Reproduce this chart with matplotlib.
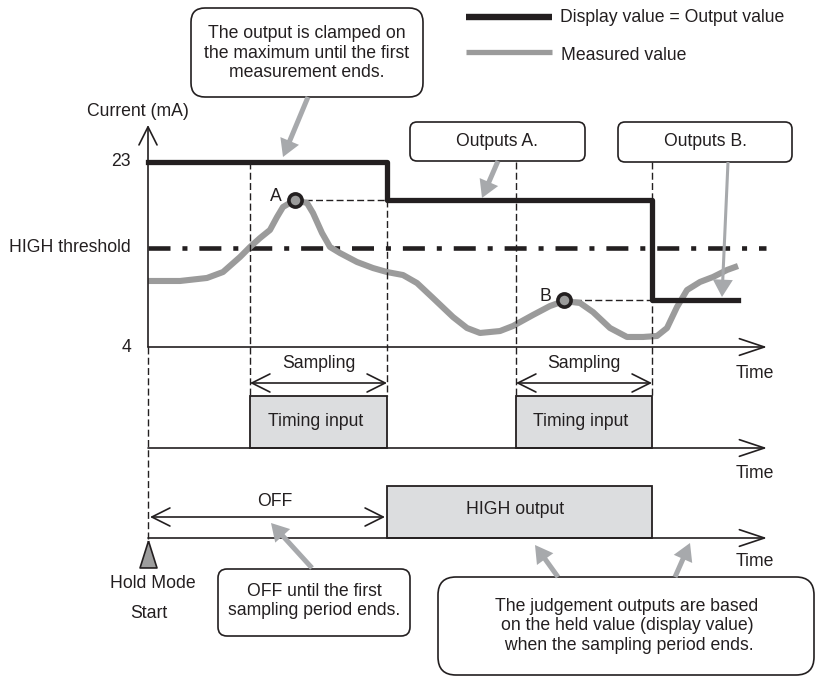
import matplotlib.pyplot as plt
from matplotlib.patches import FancyBboxPatch, Rectangle
from matplotlib.transforms import blended_transform_factory

plt.rcParams['font.family'] = ['Liberation Sans', 'DejaVu Sans']

# measured current (mA) against time (arbitrary units)
t_meas = [0.0, 3.2, 5.9, 7.5, 9.2, 10.2, 11.2, 12.2, 12.9, 13.5, 14.7, 15.9, 16.5,
          17.4, 18.2, 19.2, 20.9, 22.5, 23.9, 25.5, 26.9, 28.5, 30.5, 31.9, 33.2,
          35.2, 36.5, 38.5, 40.2, 41.6, 43.2, 44.5, 46.2, 47.9, 49.5, 50.9, 51.9,
          52.9, 53.9, 55.2, 56.5, 57.9, 59.0]
i_meas = [10.78, 10.78, 11.09, 11.70, 13.24, 14.27, 15.19, 16.02, 17.35, 18.38, 19.10,
          18.79, 17.76, 15.71, 14.27, 13.65, 12.73, 12.11, 11.70, 11.39, 10.57, 9.03,
          7.08, 5.95, 5.44, 5.64, 6.16, 7.29, 8.21, 8.72, 8.52, 7.59, 5.95, 5.03, 5.03,
          5.13, 5.95, 8.11, 9.85, 10.68, 11.19, 11.91, 12.32]

# display value = output value (step changes at the end of each sampling period)
t_out = [0.0, 23.9, 50.4, 59.0]
i_out = [23.0, 19.1, 8.8, 8.8]

i_min, i_max = 4, 23
i_high = 14.2
t_end = 62.0

sampling = [(10.2, 23.9), (36.8, 50.4)]
peak_a = (14.7, 19.1)
peak_b = (41.6, 8.8)
high_on = (23.9, 50.4)

ink = '#231f20'
curve_grey = '#9b9b9b'
arrow_grey = '#a7a9ac'
fill_grey = '#dcdddf'
fs = 12.7

W, H = 816, 677
fig = plt.figure(figsize=(W / 100, H / 100), dpi=100)

# signal axes: time 0..62 over px 148..768, current 4..23 mA over px 347..162
sig = fig.add_axes([148 / W, 1 - 347 / H, 620 / W, 185 / H], zorder=0)
sig.set_xlim(0, t_end)
sig.set_ylim(i_min, i_max)
sig.axis('off')

# layout axes in pixel units for boxes, lanes and notes
lay = fig.add_axes([0, 0, 1, 1], zorder=1)
lay.set_xlim(0, W)
lay.set_ylim(H, 0)
lay.axis('off')
lay.patch.set_visible(False)

tb = blended_transform_factory(sig.transData, lay.transData)
dash = dict(color=ink, lw=1.0, dashes=(5, 2.4), clip_on=False)

# measured value and held output
sig.plot(t_meas, i_meas, color=curve_grey, lw=4.4, solid_joinstyle='round',
         solid_capstyle='butt', clip_on=False, zorder=3)
sig.step(t_out, i_out, where='post', color=ink, lw=3.8, clip_on=False, zorder=4)
sig.plot([0, 61.8], [i_high, i_high], color=ink, lw=3.3, dashes=(4.8, 2.6, 1.1, 2.6),
         dash_capstyle='butt', clip_on=False, zorder=2)

for (tp, ip), lab in [(peak_a, 'A'), (peak_b, 'B')]:
    t_hold = min(s[1] for s in sampling if s[1] > tp)
    sig.plot([tp, t_hold], [ip, ip], zorder=2, **dash)
    sig.plot(tp, ip, marker='o', ms=9.5, mfc=curve_grey, mec=ink, mew=2.6,
             clip_on=False, zorder=5)
    sig.text(tp - 1.9, ip + 0.35, lab, ha='center', va='center', fontsize=fs, color=ink)

# axis labels
sig.text(-1.7, 23, '23', ha='right', va='center', fontsize=fs, color=ink)
sig.text(-1.7, i_high, 'HIGH threshold', ha='right', va='center', fontsize=fs, color=ink)
sig.text(-1.7, 4, '4', ha='right', va='center', fontsize=fs, color=ink)
lay.text(138, 112, 'Current (mA)', ha='center', va='center', fontsize=fs, color=ink)

# vertical dashed guides
lay.plot([0, 0], [347, 540], transform=tb, **dash)
for t0, t1 in sampling:
    lay.plot([t0, t0], [162, 396], transform=tb, **dash)
    lay.plot([t1, t1], [162 if t0 > 20 else 200, 396], transform=tb, **dash)

# axes with open arrow heads
axis_arrow = dict(arrowstyle='->,head_length=1.8,head_width=0.6', color=ink, lw=1.2,
                  mutation_scale=10, shrinkA=0, shrinkB=0)
lay.annotate('', xy=(0, 125), xytext=(0, 347), xycoords=tb, textcoords=tb,
             arrowprops=dict(axis_arrow, arrowstyle='->,head_length=1.3,head_width=0.65'))
for y_lane, y_time in [(347, 373), (448, 474), (538, 562)]:
    lay.annotate('', xy=(t_end - 0.1, y_lane), xytext=(0, y_lane), xycoords=tb,
                 textcoords=tb, arrowprops=axis_arrow)
    lay.text(755, y_time, 'Time', ha='center', va='center', fontsize=fs, color=ink)

# sampling windows and timing input
span_arrow = dict(arrowstyle='<->,head_length=1.3,head_width=0.65', color=ink, lw=1.2,
                  mutation_scale=10, shrinkA=0, shrinkB=0)
for t0, t1 in sampling:
    lay.annotate('', xy=(t1, 383), xytext=(t0, 383), xycoords=tb, textcoords=tb,
                 arrowprops=span_arrow)
    lay.text((t0 + t1) / 2, 363, 'Sampling', ha='center', va='center', fontsize=fs,
             color=ink, transform=tb)
    lay.add_patch(Rectangle((t0, 396), t1 - t0, 52, transform=tb, fc=fill_grey,
                            ec=ink, lw=1.3))
    lay.text((t0 + t1) / 2 - 0.3, 422, 'Timing input', ha='center', va='center',
             fontsize=fs, color=ink, transform=tb)

# judgement output lane
lay.add_patch(Rectangle((high_on[0], 486), high_on[1] - high_on[0], 52, transform=tb,
                        fc=fill_grey, ec=ink, lw=1.3))
lay.text(sum(high_on) / 2 - 0.4, 510, 'HIGH output', ha='center', va='center',
         fontsize=fs, color=ink, transform=tb)
lay.annotate('', xy=(high_on[0] - 0.2, 517), xytext=(0.2, 517), xycoords=tb,
             textcoords=tb, arrowprops=span_arrow)
lay.text(high_on[0] / 2 + 0.7, 502, 'OFF', ha='center', va='center', fontsize=fs,
         color=ink, transform=tb)

# hold mode start marker
lay.plot(0, 553.5, marker=[(0, 1), (-0.63, -1), (0.63, -1), (0, 1)], ms=19.4,
         mfc='#9d9d9d', mec=ink, mew=1.2, transform=tb, clip_on=False)
lay.text(153, 584, 'Hold Mode', ha='center', va='center', fontsize=fs, color=ink)
lay.text(149, 614, 'Start', ha='center', va='center', fontsize=fs, color=ink)

# legend
lay.plot([466, 552], [17, 17], color=ink, lw=4.6, solid_capstyle='butt')
lay.text(560, 17, 'Display value = Output value', ha='left', va='center', fontsize=fs,
         color=ink)
lay.plot([466, 552], [52, 52], color=curve_grey, lw=3.8, solid_capstyle='butt')
lay.text(561, 55, 'Measured value', ha='left', va='center', fontsize=fs, color=ink)

# callout boxes
notes = [
    ((191, 8, 232, 89), 14, (307, 53),
     'The output is clamped on\nthe maximum until the first\nmeasurement ends.'),
    ((410, 122, 175, 39), 7, (497, 141), 'Outputs A.'),
    ((618, 122, 174, 40), 7, (705, 141), 'Outputs B.'),
    ((218, 569, 192, 67), 9, (314, 601), 'OFF until the first\nsampling period ends.'),
    ((438, 577, 376, 98), 18, (627, 626),
     'The judgement outputs are based\non the held value (display value)\n'
     ' when the sampling period ends.'),
]
for (x, y, w, h), r, (tx, ty), txt in notes:
    lay.add_patch(FancyBboxPatch((x, y), w, h, boxstyle=f'round,pad=0,rounding_size={r}',
                                 fc='white', ec=ink, lw=1.2))
    lay.text(tx, ty, txt, ha='center', va='center', multialignment='center',
             fontsize=fs, color=ink)

# grey pointer arrows (base -> tip)
pointers = [((308, 97), (283, 157), 0.36), ((498, 161), (482, 198), 0.36),
            ((728, 162), (722, 297), 0.22), ((312, 568), (271, 523), 0.36),
            ((558, 577), (535, 545), 0.36), ((675, 577), (690, 543), 0.36)]
for base, tip, tw in pointers:
    lay.annotate('', xy=tip, xytext=base,
                 arrowprops=dict(arrowstyle=f'simple,head_length=1.25,head_width=1.45,'
                                            f'tail_width={tw}',
                                 fc=arrow_grey, ec='none', mutation_scale=10,
                                 shrinkA=0, shrinkB=0))

fig.savefig('out.png', dpi=100)
